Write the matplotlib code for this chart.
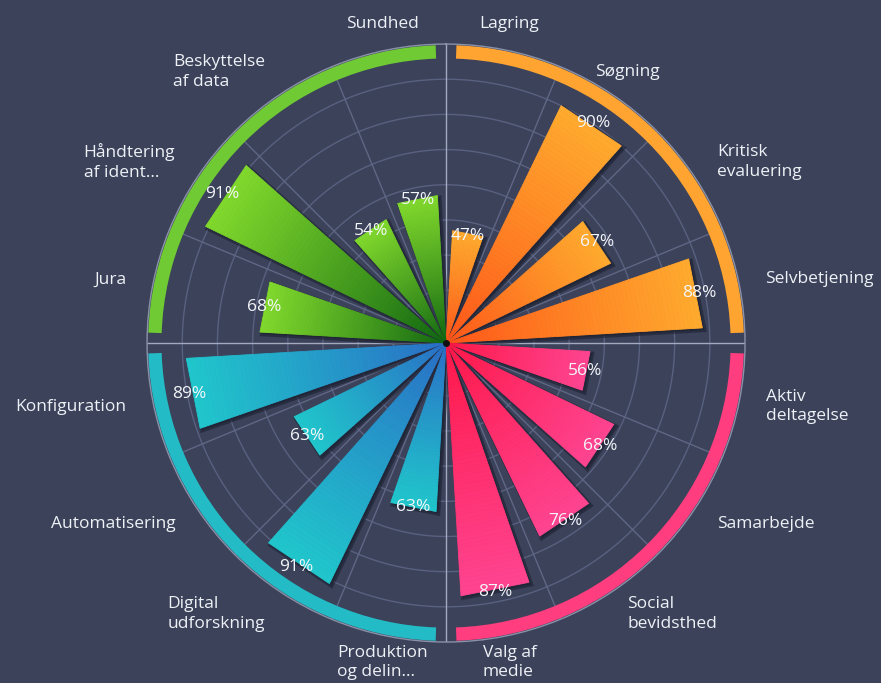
import numpy as np
import matplotlib
matplotlib.use("Agg")
import matplotlib.pyplot as plt
from matplotlib import transforms
from matplotlib.colors import to_rgb

# data, clockwise from the top
categories = ["Lagring", "Søgning", "Kritisk\nevaluering", "Selvbetjening",
              "Aktiv\ndeltagelse", "Samarbejde", "Social\nbevidsthed", "Valg af\nmedie",
              "Produktion\nog delin…", "Digital\nudforskning", "Automatisering", "Konfiguration",
              "Jura", "Håndtering\naf ident…", "Beskyttelse\naf data", "Sundhed"]
values = [47, 90, 67, 88, 56, 68, 76, 87, 63, 91, 63, 89, 68, 91, 54, 57]
groups = [0, 0, 0, 0, 1, 1, 1, 1, 2, 2, 2, 2, 3, 3, 3, 3]

# colours per group: (bar base, bar tip, outer arc)
base_cols = ["#ff5418", "#ff1646", "#2a6cc6", "#0f6411"]
tip_cols = ["#ffaa2e", "#ff4490", "#20c6cc", "#80d82c"]
arc_cols = ["#ffa431", "#ff3d7f", "#23bcc6", "#6fca34"]

bg = "#3b4259"
rmin, rmax = 15, 100
n = len(categories)
step = 360 / n

plt.rcParams['font.family'] = ['Open Sans', 'DejaVu Sans']
fig = plt.figure(figsize=(8.81, 6.83), dpi=100, facecolor=bg)
ax = fig.add_axes([0.1669, 0.0600, 0.6788, 0.8755], projection="polar", facecolor=bg)
ax.set_theta_zero_location("N")
ax.set_theta_direction(-1)
ax.set_ylim(rmin, rmax)
ax.grid(False)
ax.set_xticks([])
ax.set_yticks([])
ax.spines["polar"].set_color("#8a92aa")
ax.spines["polar"].set_linewidth(1)


def lerp(c1, c2, t):
    a, b = to_rgb(c1), to_rgb(c2)
    return tuple(x + (y - x) * t for x, y in zip(a, b))


# grid circles and spokes
circ = np.linspace(0, 2 * np.pi, 500)
for r in range(20, 100, 10):
    ax.plot(circ, [r] * len(circ), color="#596180", lw=1, zorder=1)
for k in range(n):
    th = np.deg2rad(k * step)
    col = "#a3aac0" if k % 4 == 0 else "#5f6785"
    ax.plot([th, th], [rmin, rmax], color=col, lw=1, zorder=1)

# outer arcs per group
for g in range(4):
    ax.bar(np.deg2rad(g * 90 + 45), 3.8, width=np.deg2rad(86), bottom=95.9,
           color=arc_cols[g], lw=0, zorder=2)

# bars: triangles with flat ends, radial gradient, offset shadow
hw = np.deg2rad(step * 0.7 / 2)
shadow_tr = ax.transData + transforms.ScaledTranslation(1.5 / 72, -1.5 / 72, fig.dpi_scale_trans)
nb = 60
for i, v in enumerate(values):
    g = groups[i]
    thc = np.deg2rad(step / 2 + i * step)
    t1, t2 = thc - hw, thc + hw
    ax.fill([thc, t1, t2], [rmin, v, v], color="#1c2031", alpha=0.6, lw=3,
            transform=shadow_tr, zorder=3)
    for k in range(nb):
        r0 = rmin + (v - rmin) * k / nb
        r1 = rmin + (v - rmin) * (k + 1) / nb
        c = lerp(base_cols[g], tip_cols[g], (k / (nb - 1)) ** 0.9)
        ax.fill([t1, t2, t2, t1], [r0, r0, r1, r1], color=c, lw=0.6, zorder=4)
    ax.text(thc, 1.03 * v - 2.3, f"{v}%", ha="center", va="center",
            color="#f4f6fa", fontsize=12.5, zorder=6)

ax.plot([0], [rmin], "o", color="#111111", ms=4, zorder=5)

# category labels
for i, lab in enumerate(categories):
    ang = step / 2 + i * step
    if 35 < ang < 160:
        ha = "left"
    elif 200 < ang < 340:
        ha = "right"
    else:
        ha = "center"
    ax.text(np.deg2rad(ang), 107.6, lab, ha=ha, va="center", multialignment="left",
            color="#eef1f6", fontsize=12.5, linespacing=1.3, clip_on=False)

fig.savefig("out.png", dpi=100, facecolor=bg)
